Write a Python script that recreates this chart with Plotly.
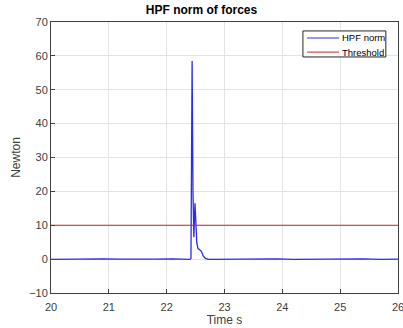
import plotly.graph_objects as go

# HPF norm signal (time in s, value in N)
time_s = [20.0, 20.3, 20.6, 20.9, 21.2, 21.5, 21.8, 22.1, 22.3, 22.40, 22.42,
          22.44, 22.455, 22.47, 22.49, 22.505, 22.52, 22.54, 22.57, 22.60, 22.63,
          22.67, 22.72, 23.0, 23.3, 23.6, 23.9, 24.2, 24.5, 24.8, 25.1, 25.4, 25.7, 26.0]
hpf_norm = [-0.1, 0.0, -0.1, 0.1, 0.0, -0.1, 0.0, 0.1, 0.0, -0.1, 0.2,
            58.5, 20.0, 6.5, 16.5, 12.0, 5.0, 3.2, 2.6, 2.3, 1.0,
            0.2, -0.1, 0.0, -0.1, 0.0, 0.1, -0.1, 0.0, -0.1, 0.0, 0.1, -0.1, 0.0]
threshold_t = [20.0, 26.0]
threshold_v = [10, 10]

x_ticks = [20, 21, 22, 23, 24, 25, 26]
y_ticks = [-10, 0, 10, 20, 30, 40, 50, 60, 70]
series_names = ["HPF norm", "Threshold"]
series_colors = ["#2a2af0", "#d42424"]

FONT = "Liberation Sans, Arial"

fig = go.Figure()
fig.add_trace(go.Scatter(x=time_s, y=hpf_norm, mode="lines", name=series_names[0],
                         line=dict(color=series_colors[0], width=1.3), showlegend=False))
fig.add_trace(go.Scatter(x=threshold_t, y=threshold_v, mode="lines", name=series_names[1],
                         line=dict(color=series_colors[1], width=1), showlegend=False))

axis_common = dict(showgrid=True, gridcolor="#e3e3e3", gridwidth=1,
                   showline=True, linecolor="#404040", linewidth=1, mirror=True,
                   ticks="inside", ticklen=4, tickcolor="#404040",
                   tickfont=dict(family=FONT, size=11, color="#404040"),
                   zeroline=False, automargin=False, ticklabeloverflow="allow")

# compact MATLAB-style legend box (plot-area fractions)
fig.add_shape(type="rect", xref="paper", yref="paper", x0=0.726, x1=0.965, y0=0.871, y1=0.967,
              line=dict(color="#262626", width=1), fillcolor="white", layer="above")
for i, (nm, col) in enumerate(zip(series_names, series_colors)):
    yy = [0.941, 0.889][i]
    fig.add_shape(type="line", xref="paper", yref="paper", x0=0.738, x1=0.830, y0=yy, y1=yy,
                  line=dict(color=col, width=1), layer="above")
    fig.add_annotation(xref="paper", yref="paper", x=0.834, y=yy, text=nm, showarrow=False,
                       xanchor="left", yanchor="middle",
                       font=dict(family=FONT, size=9.5, color="black"))

fig.update_layout(
    width=403, height=328,
    margin=dict(l=51, r=5, t=22, b=35),
    paper_bgcolor="white", plot_bgcolor="white",
    title=dict(text="<b>HPF norm of forces</b>", x=0.5, xanchor="center",
               y=0.969, yanchor="middle", automargin=False,
               font=dict(family=FONT, size=12, color="black")),
    xaxis=dict(range=[20, 26], tickvals=x_ticks, ticklabelstandoff=4,
               title=dict(text="Time s", standoff=3,
                          font=dict(family=FONT, size=12, color="#404040")),
               **axis_common),
    yaxis=dict(range=[-10, 70], tickvals=y_ticks,
               title=dict(text="Newton", standoff=5,
                          font=dict(family=FONT, size=12, color="#404040")),
               **axis_common),
    showlegend=False,
)

fig.write_html("out.html", config={"displayModeBar": False},
               post_script="document.body.style.margin='0';document.body.style.overflow='hidden';")
